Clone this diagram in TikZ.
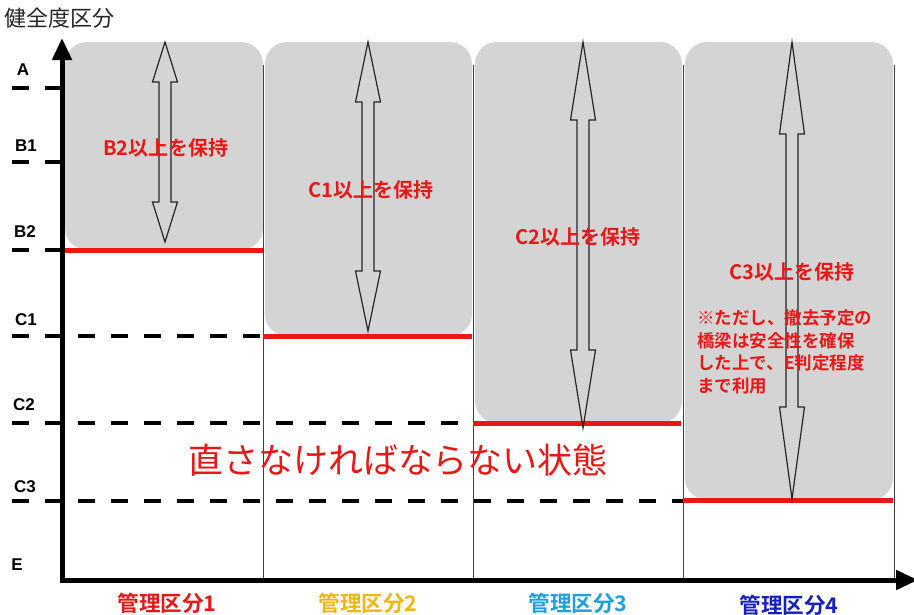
\documentclass[tikz,border=0pt]{standalone}
\usepackage{fontspec}
\setmainfont{Liberation Sans}
\newfontfamily\jp{Noto Sans CJK JP}[BoldFont={Noto Sans CJK JP Bold}]
\usetikzlibrary{arrows.meta}
\definecolor{myred}{RGB}{232,24,24}
\definecolor{myorange}{RGB}{240,182,20}
\definecolor{mycyan}{RGB}{30,160,220}
\definecolor{mynavy}{RGB}{24,32,190}
\definecolor{zonegray}{RGB}{212,212,212}
\tikzset{
  zone/.style={fill=zonegray, draw=none, rounded corners=22pt},
  divider/.style={draw=black!75, line width=0.9pt},
  limit/.style={draw=myred, line width=5pt},
  tick/.style={draw=black, line width=4.8pt, dash pattern=on 17pt off 16pt},
  arrowline/.style={draw=black!85, line width=1.2pt},
  axis/.style={draw=black, line width=5pt, -{Triangle[width=19pt,length=22pt]}},
  grade/.style={font=\fontsize{17}{20}\selectfont\bfseries, text=black, inner sep=0pt},
  keep/.style={font=\jp\fontsize{20}{24}\selectfont\bfseries, text=myred, inner sep=0pt},
  cat/.style={font=\jp\fontsize{21.5}{24}\selectfont\bfseries, inner sep=0pt},
}
\newcommand\dblarrow[4]{%
  \draw[arrowline] (#1,#2) -- ({#1+12.5},{#2+#4}) -- ({#1+6},{#2+#4}) -- ({#1+6},{#3-#4})
    -- ({#1+12.5},{#3-#4}) -- (#1,#3) -- ({#1-12.5},{#3-#4}) -- ({#1-6},{#3-#4})
    -- ({#1-6},{#2+#4}) -- ({#1-12.5},{#2+#4}) -- cycle;}
\begin{document}
\begin{tikzpicture}[x=1pt,y=-1pt]
\useasboundingbox (0,0) rectangle (914,614);
% gray zones
\fill[zone] (65,42) rectangle (263,250);
\fill[zone] (265,42) rectangle (472,336);
\fill[zone] (475,42) rectangle (682,423);
\fill[zone] (685,42) rectangle (893,500);
% dividers
\foreach \x in {263,473,683,894} \draw[divider] (\x,65) -- (\x,580);
% coordinates
\coordinate (o) at (62,582);
\coordinate (ytop) at (62,38);
\coordinate (xend) at (918,580);
% dashed ticks
\draw[tick] (12,88) -- (62,88);
\draw[tick] (12,162) -- (62,162);
\draw[tick] (12,250) -- (62,250);
\draw[tick] (12,336) -- (263,336);
\draw[tick] (12,423) -- (473,423);
\draw[tick] (12,501) -- (683,501);
% red limits
\draw[limit] (62,250) -- (263,250);
\draw[limit] (263,336) -- (472,336);
\draw[limit] (473,423) -- (681,423);
\draw[limit] (683,500) -- (893,500);
% double arrows
\dblarrow{165}{42}{242}{40}
\dblarrow{368}{42}{331}{60}
\dblarrow{583}{42}{428}{78}
\dblarrow{792}{42}{499}{92}
% axes
\draw[axis] (o) -- (ytop);
\draw[axis] (60,580) -- (xend);
% texts
\node[anchor=west, font=\jp\fontsize{22}{26}\selectfont, text=black!85, inner sep=0pt] (title) at (4,18) {健全度区分};
\node[grade] (gA) at (23,70) {A};
\node[grade] (gB1) at (26,146) {B1};
\node[grade] (gB2) at (25,232) {B2};
\node[grade] (gC1) at (26,320) {C1};
\node[grade] (gC2) at (24,405) {C2};
\node[grade] (gC3) at (25,487) {C3};
\node[grade] (gE) at (17,565) {E};
\node[keep] (k1) at (166,148) {B2以上を保持};
\node[keep] (k2) at (371,190) {C1以上を保持};
\node[keep] (k3) at (578,237) {C2以上を保持};
\node[keep] (k4) at (792,272) {C3以上を保持};
\node[anchor=west, align=left, font=\jp\fontsize{17.5}{22.5}\selectfont\bfseries, text=myred, inner sep=0pt] (note) at (697,352)
  {※ただし、撤去予定の\\橋梁は安全性を確保\\した上で、E判定程度\\まで利用};
\node[font=\jp\fontsize{35}{40}\selectfont, text=myred, inner sep=0pt] (state) at (398,460) {直さなければならない状態};
\node[cat, text=myred] (m1) at (167,603) {管理区分1};
\node[cat, text=myorange] (m2) at (368,603) {管理区分2};
\node[cat, text=mycyan] (m3) at (578,603) {管理区分3};
\node[cat, text=mynavy] (m4) at (789,605) {管理区分4};
\end{tikzpicture}
\end{document}
